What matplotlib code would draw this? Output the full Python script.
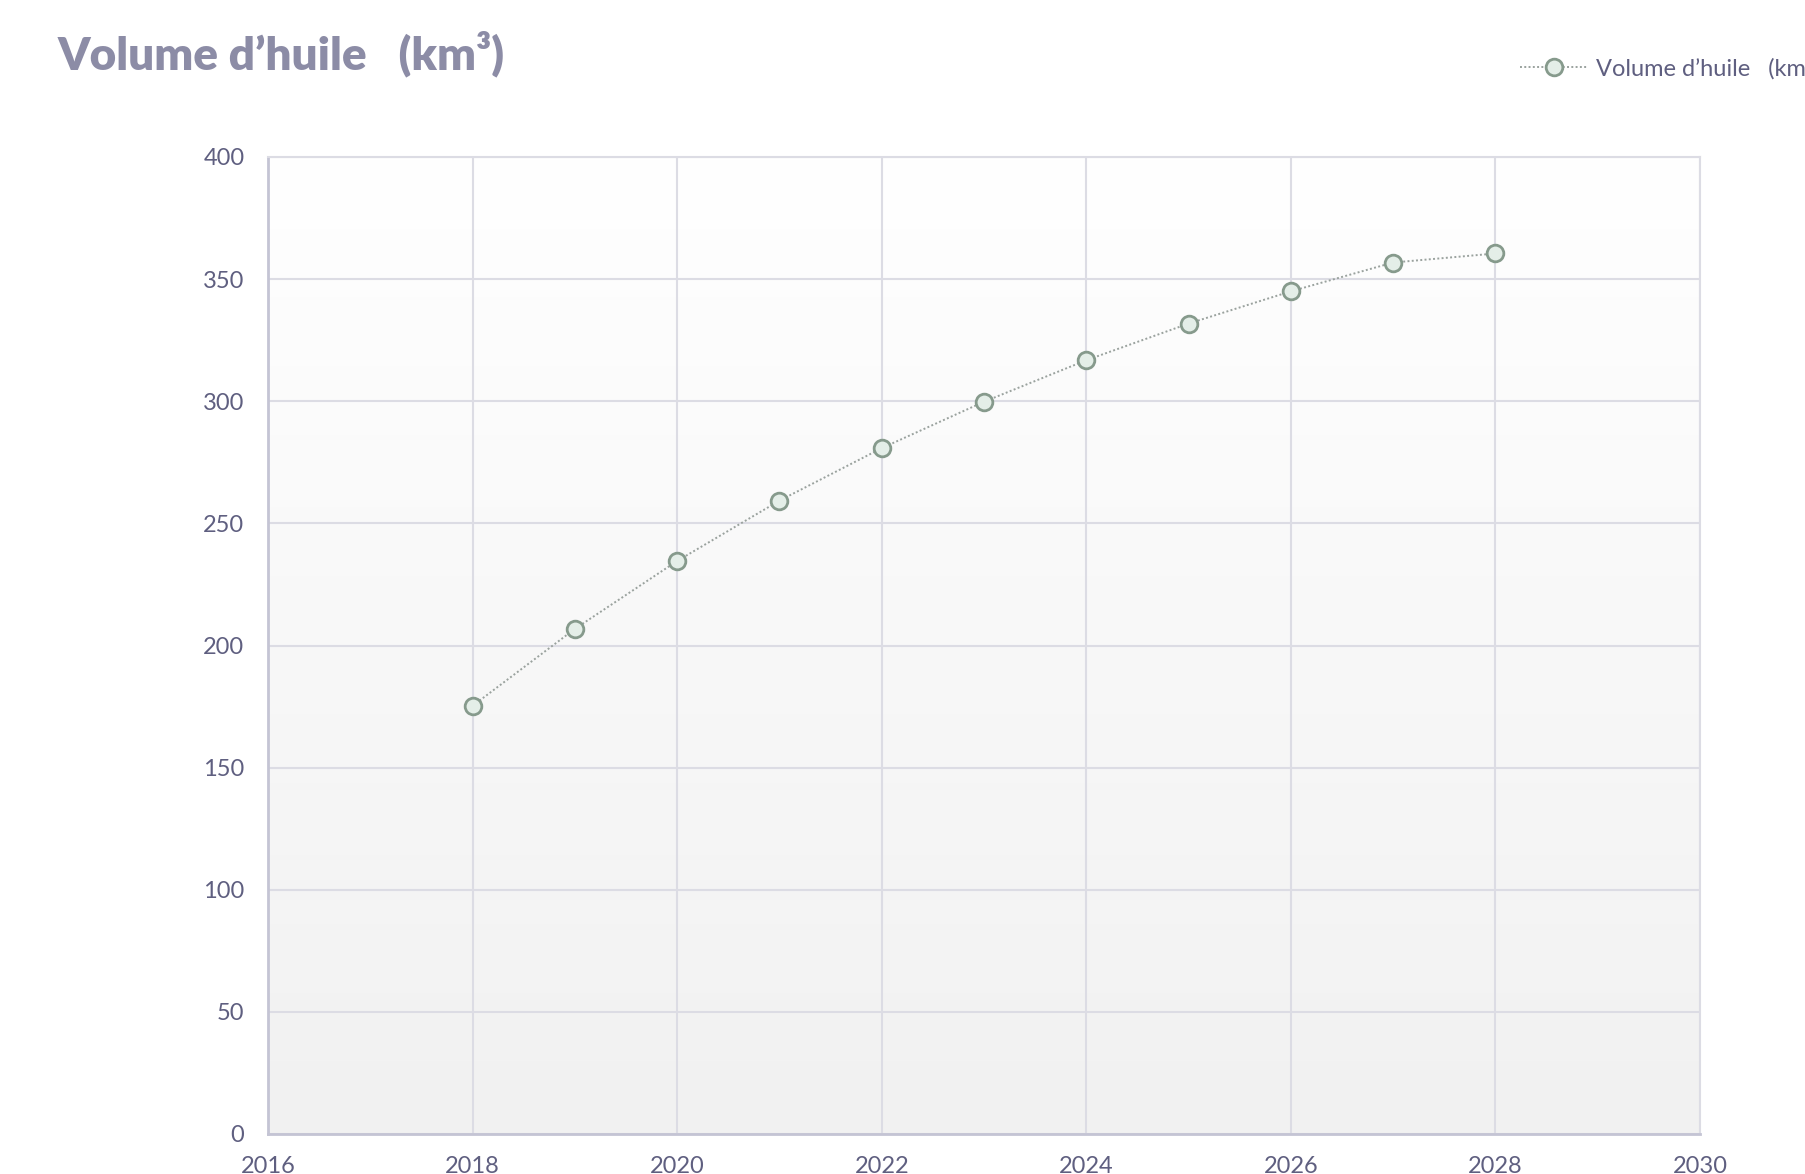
import numpy as np
import matplotlib
matplotlib.use('Agg')
import matplotlib.pyplot as plt

years = [2018, 2019, 2020, 2021, 2022, 2023, 2024, 2025, 2026, 2027, 2028]
volume = [175.3, 206.8, 234.6, 259.3, 280.8, 299.8, 316.8, 331.8, 345.0, 356.8, 360.5]
series_name = 'Volume d\u2019huile   (km\u00b3)'
x_ticks = [2016, 2018, 2020, 2022, 2024, 2026, 2028, 2030]
y_ticks = [0, 50, 100, 150, 200, 250, 300, 350, 400]

plt.rcParams['font.family'] = ['Lato', 'DejaVu Sans']
label_col = '#5f5f80'
grid_col = '#dcdce4'

W, H = 1806, 1174
fig = plt.figure(figsize=(W / 100, H / 100), dpi=100)
ax = fig.add_axes([268 / W, 1 - 1134 / H, (1700 - 268) / W, (1134 - 157) / H])

# vertical gradient background, white at top to light grey at bottom
grad = np.linspace(0, 1, 256).reshape(-1, 1)
ax.imshow(grad, extent=[0, 1, 0, 1], transform=ax.transAxes, aspect='auto',
          cmap=matplotlib.colors.LinearSegmentedColormap.from_list('bg', ['#ffffff', '#f1f1f1']),
          origin='upper', zorder=0)

ax.plot(years, volume, linestyle=(0, (1, 1.2)), color='#9aa29e', linewidth=1.4,
        marker='o', markersize=12, markerfacecolor='#e4eee8', markeredgecolor='#869a8c',
        markeredgewidth=2, label=series_name, zorder=3)

ax.set_xlim(2016, 2030)
ax.set_ylim(0, 400)
ax.set_xticks(x_ticks)
ax.set_yticks(y_ticks)
ax.grid(True, color=grid_col, linewidth=1.5, zorder=1)
ax.set_axisbelow(True)
ax.tick_params(length=0, labelsize=17, labelcolor=label_col)
ax.tick_params(axis='x', pad=16)
ax.tick_params(axis='y', pad=17)
for s in ['top', 'right']:
    ax.spines[s].set_color(grid_col)
    ax.spines[s].set_linewidth(1.5)
for s in ['left', 'bottom']:
    ax.spines[s].set_color('#c4c4d4')
    ax.spines[s].set_linewidth(2)

fig.text(58 / W, 1 - 54 / H, series_name, fontsize=33, fontweight='heavy',
         color='#8c8ca6', va='center', ha='left')

fig.legend(loc='center left', bbox_to_anchor=(1520 / W, 1 - 68 / H), frameon=False,
           fontsize=17, labelcolor=label_col, handlelength=2.9, handletextpad=0.3,
           borderaxespad=0, borderpad=0)

fig.savefig('out.png', dpi=100)
